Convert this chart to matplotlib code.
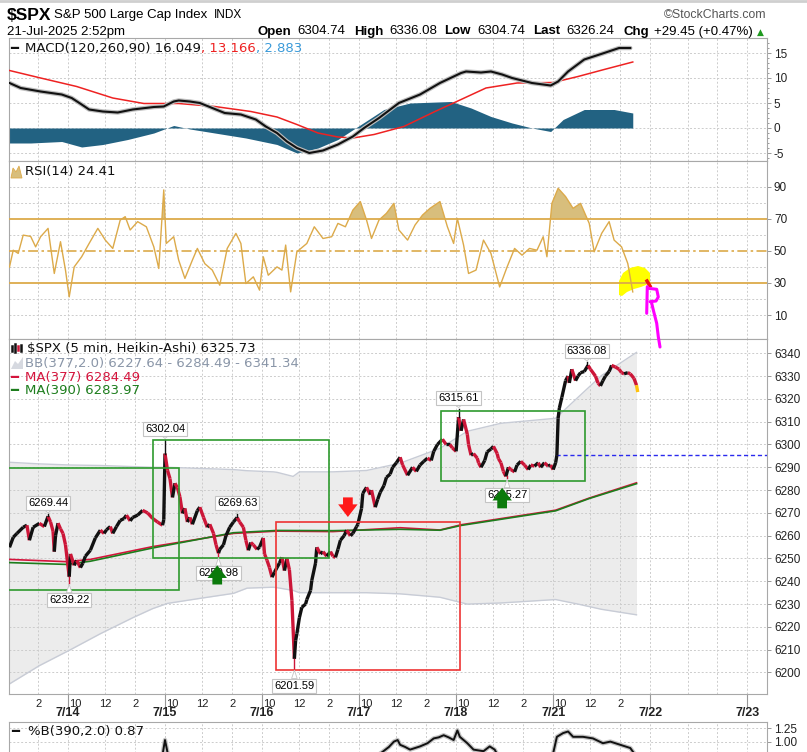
import numpy as np
import matplotlib.pyplot as plt
from matplotlib.collections import LineCollection
from matplotlib.patches import Rectangle, Polygon
from matplotlib.lines import Line2D
import matplotlib.transforms as mtransforms

# x values are 5-minute bar numbers: 0 = 7/14 09:30 open, 78 bars per session
price_bar = [-47, -44, -41, -36, -33, -31, -28, -23, -19, -16, -14, -12, -11, -10, -8, -6, -4, -2, 1, 2,
             5, 7, 10, 12, 14, 18, 22, 26, 29, 31, 34, 36, 39, 42, 45, 47, 50, 52, 56, 60,
             64, 68, 72, 76, 77, 78, 80, 82, 84, 86, 88, 90, 92, 94, 96, 98, 100, 104, 106, 109,
             112, 114, 117, 119, 121, 122, 125, 127, 130, 133, 136, 138, 141, 143, 145, 147, 149, 152, 154, 157,
             158, 160, 162, 164, 166, 168, 170, 172, 174, 176, 178, 180, 182, 183, 184, 186, 188, 191, 192, 195,
             196, 199, 200, 203, 205, 208, 211, 213, 215, 217, 219, 222, 224, 227, 229, 232, 233, 236, 237, 240,
             243, 244, 247, 249, 251, 254, 256, 259, 261, 264, 267, 269, 273, 277, 280, 283, 286, 289, 292, 294,
             297, 301, 304, 307, 309, 312, 314, 316, 318, 321, 322, 324, 326, 329, 330, 332, 335, 337, 340, 342,
             345, 346, 348, 350, 352, 354, 356, 359, 361, 364, 367, 370, 372, 375, 378, 380, 383, 386, 388, 390,
             392, 393, 394, 395, 397, 400, 402, 403, 405, 408, 410, 412, 415, 418, 420, 424, 426, 428, 430, 432,
             435, 437, 440, 443, 445, 447, 450, 452, 455, 457, 458]
price_close = [6254.9, 6259.3, 6261.0, 6263.7, 6264.6, 6258.0, 6263.7, 6265.4, 6264.0, 6268.5, 6266.0, 6262.0, 6253.0, 6260.0, 6265.5, 6263.0, 6261.0, 6256.0, 6242.0, 6252.0,
               6247.0, 6249.2, 6246.0, 6248.0, 6251.0, 6253.6, 6259.0, 6262.4, 6261.0, 6262.6, 6264.0, 6261.0, 6264.0, 6266.7, 6267.5, 6269.0, 6266.5, 6268.0, 6269.0, 6271.1,
               6270.0, 6267.6, 6266.0, 6264.6, 6267.0, 6296.0, 6288.7, 6285.0, 6276.8, 6283.0, 6281.0, 6277.0, 6269.8, 6272.0, 6266.0, 6268.0, 6265.0, 6271.0, 6272.5, 6268.0,
               6263.7, 6265.0, 6261.0, 6256.0, 6252.3, 6254.0, 6256.0, 6260.0, 6263.7, 6266.0, 6268.0, 6266.0, 6263.7, 6258.0, 6253.6, 6257.0, 6256.0, 6254.0, 6255.0, 6259.0,
               6252.0, 6249.2, 6246.0, 6241.8, 6244.0, 6246.0, 6248.0, 6250.5, 6244.7, 6250.0, 6245.0, 6231.7, 6206.0, 6214.0, 6217.0, 6224.0, 6228.6, 6230.0, 6232.0, 6236.0,
               6240.4, 6248.0, 6254.9, 6252.0, 6253.0, 6251.0, 6253.0, 6251.0, 6250.5, 6254.0, 6258.0, 6260.0, 6262.4, 6260.0, 6261.0, 6264.0, 6265.0, 6272.0, 6278.6, 6281.2,
               6278.0, 6280.0, 6272.5, 6276.0, 6279.0, 6282.0, 6285.6, 6287.0, 6290.0, 6292.0, 6294.4, 6291.0, 6286.5, 6290.0, 6288.2, 6291.0, 6292.6, 6294.0, 6293.0, 6297.0,
               6300.0, 6302.3, 6300.0, 6300.0, 6298.5, 6297.0, 6312.0, 6306.0, 6311.0, 6304.5, 6300.0, 6295.3, 6296.0, 6294.0, 6292.0, 6290.0, 6293.0, 6296.8, 6298.0, 6299.2,
               6296.0, 6293.8, 6292.0, 6288.2, 6286.0, 6290.0, 6289.0, 6288.0, 6291.0, 6292.6, 6291.0, 6289.0, 6291.0, 6290.5, 6292.0, 6290.0, 6292.0, 6290.5, 6291.0, 6289.0,
               6292.0, 6295.3, 6311.5, 6316.0, 6320.7, 6328.0, 6330.0, 6327.0, 6333.0, 6328.0, 6330.0, 6331.5, 6332.0, 6334.7, 6333.0, 6330.0, 6327.0, 6325.7, 6328.0, 6330.0,
               6332.0, 6334.7, 6334.0, 6333.0, 6331.5, 6331.0, 6331.5, 6331.0, 6329.0, 6326.0, 6323.0]

bb_bar = [-47, -23, 2, 26, 52, 68, 80, 106, 133, 144, 165, 168, 181, 186, 213, 240, 267, 299, 321, 348, 392, 410, 429, 457]
bb_upper = [6292.2, 6291.5, 6291.0, 6290.8, 6290.3, 6290.0, 6290.0, 6289.5, 6289.0, 6288.5, 6288.0, 6287.8,
            6286.0, 6288.0, 6288.0, 6288.6, 6291.8, 6298.3, 6305.8, 6309.3, 6311.5, 6320.7, 6330.3, 6340.4]
bb_lower = [6195.0, 6203.0, 6210.0, 6217.0, 6224.0, 6228.0, 6230.3, 6232.5, 6234.7, 6237.0, 6237.4, 6237.2,
            6236.0, 6235.0, 6235.0, 6235.0, 6234.5, 6233.0, 6230.0, 6230.5, 6232.0, 6230.0, 6227.7, 6225.3]

ma_bar = [-47, -1, 18, 68, 133, 168, 213, 267, 299, 316, 392, 419, 457]
ma377 = [6249.6, 6248.6, 6249.6, 6255.2, 6261.0, 6262.0, 6261.8, 6263.5, 6262.5, 6264.8, 6271.2, 6276.5, 6283.2]
ma390 = [6248.2, 6247.4, 6248.8, 6254.6, 6261.3, 6262.3, 6262.2, 6262.8, 6262.4, 6264.5, 6270.9, 6276.3, 6282.8]

# labelled highs / lows
ext_bar = [-16, 1, 78, 121, 136, 182, 314, 353, 417]
ext_val = [6269.44, 6239.22, 6302.04, 6250.98, 6269.63, 6201.59, 6315.61, 6285.27, 6336.08]
ext_above = [True, False, True, False, True, False, True, False, True]

macd_bar = [-47, -38, -22, -5, 3, 11, 17, 28, 40, 52, 69, 77, 85, 89, 98, 106, 114, 126, 139, 151,
            159, 168, 176, 184, 194, 205, 217, 229, 238, 250, 266, 283, 299, 316, 320, 332, 340, 349, 357, 373,
            388, 394, 402, 415, 431, 443, 452]
macd_val = [9.0, 8.0, 7.3, 6.7, 6.0, 4.7, 3.7, 3.3, 3.1, 3.7, 4.2, 4.3, 5.3, 5.5, 5.3, 5.0, 4.2, 3.0, 2.7, 1.7,
            0.3, -1.0, -2.7, -4.0, -5.0, -4.5, -3.3, -1.7, 0.0, 2.0, 5.0, 6.7, 9.0, 11.0, 11.3, 11.1, 11.3, 10.7, 10.0, 9.0,
            8.5, 9.3, 11.3, 13.7, 15.0, 16.0, 16.0]
sig_bar = [-47, -22, 7, 36, 61, 89, 118, 147, 168, 184, 201, 217, 229, 246, 270, 295, 316, 336, 361, 390, 410, 431, 454]
sig_val = [11.5, 10.0, 8.3, 6.0, 4.9, 4.9, 4.3, 3.3, 2.2, 0.7, -1.0, -1.8, -2.0, -1.3, 0.3, 3.3, 5.7, 8.0, 9.0, 9.1, 10.3, 11.7, 13.2]
hist_bar = [-47, -30, -5, 11, 28, 48, 69, 85, 98, 118, 143, 168, 184, 201, 217, 233, 254, 275, 308, 324,
            340, 357, 373, 388, 398, 415, 439, 454]
hist_val = [-3.0, -3.0, -2.7, -3.8, -3.3, -2.3, -1.0, 0.5, -0.2, -1.0, -2.0, -3.3, -5.0, -4.0, -2.3, 0.3, 3.7, 5.0, 5.3, 4.0,
            2.3, 1.0, 0.0, -0.7, 1.7, 3.7, 3.7, 3.0]

rsi_bar = [-47, -44, -40, -36, -30, -26, -22, -16, -11, -6, -2, 1, 5, 11, 17, 24, 30, 36, 42, 46,
           50, 56, 63, 69, 73, 77, 79, 85, 89, 94, 100, 104, 110, 116, 122, 128, 135, 139, 143, 149,
           154, 157, 161, 168, 172, 175, 179, 184, 192, 198, 205, 212, 217, 223, 229, 235, 240, 244, 250, 256,
           262, 266, 273, 279, 285, 291, 299, 305, 310, 313, 318, 322, 328, 334, 340, 347, 353, 359, 365, 371,
           377, 382, 385, 389, 394, 400, 406, 412, 419, 423, 429, 435, 439, 445, 450, 454]
rsi_val = [40, 50.4, 48.4, 59.8, 59, 52.5, 58.8, 64, 35.9, 55.7, 38, 21.3, 40, 46.3, 54.6, 64, 56.7, 51.5, 69.2, 71.3,
           63, 68.2, 65, 52.5, 39, 88, 54.6, 58.8, 44.2, 32.8, 44.2, 51.5, 42, 38, 28.6, 51.5, 60.9, 54.6, 29.6, 33.8,
           25.5, 46.3, 34.8, 40, 38, 53.6, 24.4, 49.4, 54.6, 65, 57.7, 58.8, 67.1, 65, 75.4, 80.7, 69.2, 57.7, 69.2, 73.4,
           79.6, 63, 56.7, 66.1, 72.3, 76.5, 80.7, 65, 54.6, 70.2, 53.6, 35.9, 38, 56.7, 48.4, 27.5, 40, 51.5, 47.3, 51.5,
           50.4, 58.8, 46.3, 79.6, 89, 83.8, 76.5, 79.6, 67.1, 49.4, 60.9, 68.2, 56.7, 52.5, 42.1, 24.4]

pctb_bar = [-47, 70, 76, 78, 80, 84, 240, 250, 253, 258, 262, 265, 267, 271, 275, 279, 283, 289, 294, 298,
            302, 306, 310, 313, 315, 321, 326, 334, 339, 343, 346, 350, 385, 390, 393, 398, 402, 406, 414, 422,
            430, 436, 444, 452, 456]
pctb_val = [0.3, 0.4, 0.75, 1.03, 0.8, 0.5, 0.5, 0.76, 0.81, 0.9, 1.0, 1.03, 0.94, 0.9, 0.85, 0.88, 0.91, 0.97, 1.06, 1.08,
            1.12, 1.08, 1.03, 1.21, 1.09, 0.97, 0.85, 0.82, 0.91, 0.85, 0.72, 0.5, 0.5, 0.78, 1.09, 1.16, 1.19, 1.09, 1.09, 1.06,
            0.97, 1.0, 0.94, 0.88, 0.75]

day_labels = ['7/14', '7/15', '7/16', '7/17', '7/18', '7/21', '7/22', '7/23']
hour_labels = [(6, '10'), (30, '12'), (54, '2')]
last_bar = 458

plt.rcParams['font.family'] = ['Liberation Sans', 'DejaVu Sans']

W, H = 807, 752
fig = plt.figure(figsize=(W / 100, H / 100), dpi=100)


def fx(x):
    return x / W


def fy(y):
    return 1 - y / H


L, R = 9, 767


def panel(top, bottom):
    return fig.add_axes([fx(L), fy(bottom), (R - L) / W, (bottom - top) / H])


ax_m = panel(38, 161)
ax_r = panel(161, 339)
ax_p = panel(339, 694)
ax_b = panel(722, 902)

XMIN, XMAX = -47.4, 561.9
grid_kw = dict(color='#cccccc', lw=0.7, ls=(0, (2, 2)), zorder=1)
tick_font = dict(family=['Liberation Sans Narrow', 'Liberation Sans'], size=8.5)

for ax in (ax_m, ax_r, ax_p, ax_b):
    ax.set_xlim(XMIN, XMAX)
    for s in ax.spines.values():
        s.set_color('#a8a8a8')
        s.set_linewidth(0.8)
    ax.yaxis.tick_right()
    ax.tick_params(axis='y', direction='out', length=3, width=0.6, color='#888888', pad=2, labelcolor='#222222')
    ax.tick_params(axis='x', length=0, labelbottom=False)
    for d in range(-1, 8):
        for off in (0, 30, 54):
            ax.axvline(78 * d + off, **grid_kw)


def set_yaxis(ax, lo, hi, ticks, fmt='{:g}', grid=None):
    ax.set_ylim(lo, hi)
    ax.set_yticks(ticks)
    ax.set_yticklabels([fmt.format(t) for t in ticks], fontdict=tick_font)
    for g in (ticks if grid is None else grid):
        ax.axhline(g, **grid_kw)


set_yaxis(ax_m, -6.6, 18.0, [-5, 0, 5, 10, 15])
ax_m.set_yticks(range(-6, 18), minor=True)
ax_m.tick_params(axis='y', which='minor', length=1.5, color='#888888')
set_yaxis(ax_r, -4.95, 106.0, [10, 30, 50, 70, 90], grid=[10, 20, 40, 60, 80, 90])
set_yaxis(ax_p, 6190.57, 6346.27, list(range(6200, 6341, 10)))
set_yaxis(ax_b, -2.009, 1.368, [1.0, 1.25], fmt='{:.2f}')

# ---- MACD panel ----
ax_m.fill_between(hist_bar, hist_val, 0, color='#226282', lw=0, zorder=2)
ax_m.plot(sig_bar, sig_val, color='#ee2222', lw=1.1, zorder=3)
ax_m.plot(macd_bar, macd_val, color='#bdbdbd', lw=3.2, zorder=3, solid_capstyle='round')
ax_m.plot(macd_bar, macd_val, color='#111111', lw=1.5, zorder=4)

# ---- RSI panel ----
gold = '#dcaa4a'
rb, rv = np.array(rsi_bar), np.array(rsi_val, dtype=float)
ax_r.fill_between(rb, rv, 70, where=rv > 70, interpolate=True, color='#d8be7c', lw=0, zorder=2)
ax_r.plot(rb, rv, color=gold, lw=1.0, zorder=3)
ax_r.axhline(70, color=gold, lw=1.3, zorder=3)
ax_r.axhline(30, color=gold, lw=1.3, zorder=3)
ax_r.axhline(50, color=gold, lw=1.2, ls=(0, (6, 2, 1.5, 2)), zorder=3)

# ---- price panel ----
ax_p.fill_between(bb_bar, bb_lower, bb_upper, color='#ececec', lw=0, zorder=0.5)
ax_p.plot(bb_bar, bb_upper, color='#c8ccd6', lw=1.0, zorder=2)
ax_p.plot(bb_bar, bb_lower, color='#c8ccd6', lw=1.0, zorder=2)
ax_p.plot(ma_bar, ma377, color='#d4143c', lw=1.2, zorder=3)
ax_p.plot(ma_bar, ma390, color='#1d7d1d', lw=1.2, zorder=3)

pb, pc = np.array(price_bar), np.array(price_close)
segs = [[(pb[i - 1], pc[i - 1]), (pb[i], pc[i])] for i in range(1, len(pb))]
cols = ['#111111' if pc[i] >= pc[i - 1] else '#cc1638' for i in range(1, len(pb))]
cols[-1] = '#ffc20e'
ax_p.add_collection(LineCollection(segs, colors=cols, linewidths=2.4, zorder=4))

# wicks + price tags at the labelled extremes
for b, v, up in zip(ext_bar, ext_val, ext_above):
    near = pc[np.argmin(np.abs(pb - b))]
    ax_p.plot([b, b], [near, v], color='#111111' if up else '#cc1638', lw=1.0, zorder=4)
    off = 11 if up else -17
    ax_p.annotate(f'{v:.2f}', xy=(b, v), xytext=(0, off * 0.72), textcoords='offset points',
                  ha='center', va='center', fontsize=8, zorder=6,
                  bbox=dict(boxstyle='square,pad=0.18', fc='white', ec='#c4c4c4', lw=0.8),
                  arrowprops=dict(arrowstyle='wedge,tail_width=0.5,shrink_factor=0.5', fc='white',
                                  ec='#c4c4c4', lw=0.6, shrinkA=0, shrinkB=1))

# drawn boxes
ax_p.add_patch(Rectangle((-70, 6236.2), 159, 53.5, fill=False, ec='#2e9a2e', lw=1.2, zorder=5))
ax_p.add_patch(Rectangle((68.3, 6250.2), 141.5, 51.8, fill=False, ec='#2e9a2e', lw=1.2, zorder=5))
ax_p.add_patch(Rectangle((300, 6283.8), 116, 30.9, fill=False, ec='#2e9a2e', lw=1.2, zorder=5))
ax_p.add_patch(Rectangle((167.2, 6200.9), 147.8, 65.3, fill=False, ec='#ee3333', lw=1.2, zorder=5))

# arrows
arrow_style = 'simple,head_length=0.65,head_width=1.0,tail_width=0.5'
for b, tip, base, c in [(120, 6247.0, 6238.6, '#0b7a0b'), (349, 6281.0, 6272.0, '#0b7a0b'),
                        (225, 6268.2, 6276.8, '#ff1a1a')]:
    ax_p.annotate('', xy=(b, tip), xytext=(b, base),
                  arrowprops=dict(arrowstyle=arrow_style, fc=c, ec='none', mutation_scale=14,
                                  shrinkA=0, shrinkB=0), zorder=7)

ax_p.plot([392, XMAX], [6295.3, 6295.3], color='#2a2aee', lw=1.0, ls=(0, (3, 2)), zorder=3)

# x axis labels
trans = mtransforms.blended_transform_factory(ax_p.transData, ax_p.transAxes)
for d in range(-1, 8):
    start = 78 * d
    if d >= 0:
        ax_p.plot([start, start], [0, -13 / 355], transform=trans, color='#999999', lw=0.8, clip_on=False)
        ax_p.text(start, -19.5 / 355, day_labels[d], transform=trans, ha='center', va='center',
                  fontsize=9, fontweight='bold', color='#222222')
    for off, lab in hour_labels:
        b = start + off
        if XMIN < b <= last_bar:
            ax_p.text(b, -10 / 355, lab, transform=trans, ha='center', va='center', fontsize=8, color='#222222')

# ---- %B panel ----
ax_b.plot(pctb_bar, pctb_val, color='#c4c4c4', lw=3.2, zorder=3)
ax_b.plot(pctb_bar, pctb_val, color='#111111', lw=1.4, zorder=4)

# ---- header ----
fig.add_artist(Line2D([0, 1], [fy(1), fy(1)], transform=fig.transFigure, color='#cfcfcf', lw=2))
fig.text(fx(7), fy(15), '$SPX', fontsize=12.5, fontweight='bold', va='center')
fig.text(fx(54), fy(15), 'S&P 500 Large Cap Index', fontsize=9.5, va='center')
fig.text(fx(214), fy(15), 'INDX', fontsize=8.5, va='center')
fig.text(fx(766), fy(15), '\u00a9StockCharts.com', fontsize=8.8, va='center', ha='right', color='#555555')
fig.text(fx(7), fy(31.5), '21-Jul-2025 2:52pm', fontsize=9.5, va='center')
for x, s, bold in [(257, 'Open', True), (297, '6304.74', False), (354, 'High', True), (389, '6336.08', False),
                   (444, 'Low', True), (477, '6304.74', False), (533, 'Last', True), (566, '6326.24', False),
                   (623, 'Chg', True), (654, '+29.45 (+0.47%)', False)]:
    fig.text(fx(x), fy(31.5), s, fontsize=9.5, va='center', fontweight='bold' if bold else 'normal')
fig.text(fx(757), fy(32), '\u25b2', fontsize=6.5, va='center', color='#1f9a1f', family='DejaVu Sans')

# ---- panel legends ----
leg = dict(fontsize=9.5, va='center', family='DejaVu Sans')
fig.text(fx(10), fy(48.5), '\u2501', color='#111111', **leg)
t = fig.text(fx(25), fy(48.5), 'MACD(120,260,90) 16.049', color='#111111', **leg)
t = ax_m.annotate(', 13.166', xy=(1, 0), xycoords=t, va='bottom', color='#ee2222', fontsize=9.5, family='DejaVu Sans')
ax_m.annotate(', 2.883', xy=(1, 0), xycoords=t, va='bottom', color='#3a9ad9', fontsize=9.5, family='DejaVu Sans')

fig.add_artist(Polygon([(fx(11), fy(178)), (fx(13), fy(168)), (fx(16), fy(172)), (fx(19), fy(166)),
                        (fx(22), fy(178))], closed=True, transform=fig.transFigure, fc='#d8be7c', ec=gold, lw=0.6))
fig.text(fx(25), fy(172), 'RSI(14) 24.41', color='#111111', **leg)

for x0, h, c in [(12, 5, '#111111'), (15, 7, '#111111'), (18, 4, '#cc1638'), (21, 6, '#111111')]:
    fig.add_artist(Line2D([fx(x0), fx(x0)], [fy(348 + h / 2), fy(348 - h / 2)], transform=fig.transFigure,
                          color=c, lw=1.8))
fig.text(fx(27), fy(348.5), '$SPX (5 min, Heikin-Ashi) 6325.73', color='#111111', **leg)
fig.add_artist(Polygon([(fx(11), fy(369)), (fx(15), fy(361)), (fx(18), fy(364)), (fx(23), fy(357)),
                        (fx(23), fy(369))], closed=True, transform=fig.transFigure, fc='#d6d9e0', ec='none'))
fig.text(fx(25), fy(363), 'BB(377,2.0) 6227.64 - 6284.49 - 6341.34', color='#8a96a8', **leg)
fig.text(fx(10), fy(377), '\u2501', color='#d4143c', **leg)
fig.text(fx(25), fy(377), 'MA(377) 6284.49', color='#d4143c', **leg)
fig.text(fx(10), fy(390.5), '\u2501', color='#1d7d1d', **leg)
fig.text(fx(25), fy(390.5), 'MA(390) 6283.97', color='#1d7d1d', **leg)

fig.text(fx(11), fy(732), '\u2501', color='#111111', **leg)
fig.text(fx(28), fy(732), '%B(390,2.0) 0.87', color='#111111', **leg)

# ---- hand-drawn marks ----
blob = [(619, 295), (619, 281), (623, 273), (630, 268), (638, 266), (645, 268), (650, 273), (650, 282),
        (646, 285), (641, 287), (634, 289), (627, 292), (622, 296)]
ax_r.add_patch(Polygon([(fx(x), fy(y)) for x, y in blob], closed=True, transform=fig.transFigure,
                       fc='#ffff00', ec='none', zorder=2.5))
fig.add_artist(Line2D([fx(647), fx(650)], [fy(281), fy(286)], transform=fig.transFigure, color='#ee1111', lw=2.5))
for stroke in [[(647.3, 286.7), (646.7, 313.3)],
               [(648.3, 288.3), (656.7, 289.3), (658.3, 297), (656, 301), (650, 301.7)],
               [(651.7, 303.3), (653.3, 310), (656.7, 323.3), (658.3, 336.7), (660, 347)]]:
    fig.add_artist(Line2D([fx(x) for x, y in stroke], [fy(y) for x, y in stroke], transform=fig.transFigure,
                          color='#ff00ff', lw=2.2, solid_capstyle='round', solid_joinstyle='round'))

fig.savefig('out.png', dpi=100)
